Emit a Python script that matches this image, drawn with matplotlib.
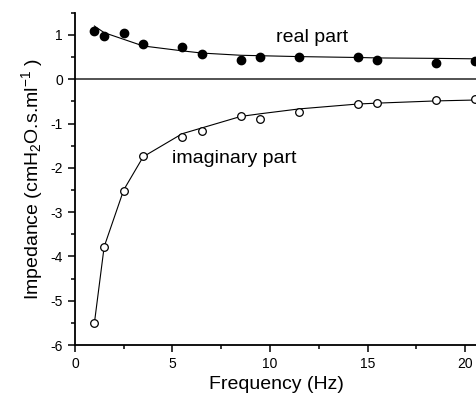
import matplotlib
matplotlib.use('Agg')
import matplotlib.pyplot as plt
from matplotlib.ticker import MultipleLocator

plt.rcParams['font.family'] = ['Liberation Sans', 'DejaVu Sans']
plt.rcParams['axes.unicode_minus'] = False
plt.rcParams['mathtext.fontset'] = 'custom'
plt.rcParams['mathtext.rm'] = 'Liberation Sans'
plt.rcParams['mathtext.it'] = 'Liberation Sans:italic'
plt.rcParams['mathtext.default'] = 'regular'

freq = [1, 1.5, 2.5, 3.5, 5.5, 6.5, 8.5, 9.5, 11.5, 14.5, 15.5, 18.5, 20.5]
real_pts = [1.08, 0.97, 1.05, 0.79, 0.72, 0.56, 0.44, 0.50, 0.49, 0.50, 0.43, 0.37, 0.42]
real_fit = [1.2, 1.05, 0.9, 0.75, 0.64, 0.59, 0.54, 0.53, 0.51, 0.49, 0.48, 0.47, 0.46]
imag_pts = [-5.50, -3.78, -2.52, -1.74, -1.31, -1.16, -0.84, -0.89, -0.73, -0.55, -0.53, -0.46, -0.45]
imag_fit = [-5.5, -3.78, -2.5, -1.75, -1.23, -1.10, -0.84, -0.78, -0.67, -0.56, -0.54, -0.49, -0.47]

fig = plt.figure(figsize=(4.77, 3.98), dpi=100)
ax = fig.add_axes([0.157, 0.133, 0.843, 0.835])

ax.axhline(0, color='#444444', lw=1.3, zorder=1)
ax.plot(freq, real_fit, color='black', lw=0.8, zorder=2)
ax.plot(freq, imag_fit, color='black', lw=0.8, zorder=2)
ax.plot(freq, real_pts, 'o', color='black', markersize=6, lw=0, zorder=3)
ax.plot(freq, imag_pts, 'o', markerfacecolor='white', markeredgecolor='black',
        markeredgewidth=0.9, markersize=5.5, lw=0, zorder=3)

ax.text(10.3, 0.93, 'real part', fontsize=14, va='center', ha='left')
ax.text(5.0, -1.8, 'imaginary part', fontsize=14, va='center', ha='left')

ax.set_xlim(0, 20.6)
ax.set_ylim(-6, 1.5)
ax.xaxis.set_major_locator(MultipleLocator(5))
ax.xaxis.set_minor_locator(MultipleLocator(2.5))
ax.yaxis.set_major_locator(MultipleLocator(1))
ax.yaxis.set_minor_locator(MultipleLocator(0.5))
ax.spines['top'].set_visible(False)
ax.spines['right'].set_visible(False)
ax.spines['left'].set_linewidth(1.3)
ax.spines['bottom'].set_linewidth(1.3)
ax.tick_params(which='major', direction='out', length=5, width=1.1, labelsize=10)
ax.tick_params(which='minor', direction='out', length=3, width=1.1)

ax.set_xlabel('Frequency (Hz)', fontsize=14)
ax.set_ylabel('Impedance (cmH$_2$O.s.ml$^{-1}$ )', fontsize=14)

fig.savefig('out.png', dpi=100)
